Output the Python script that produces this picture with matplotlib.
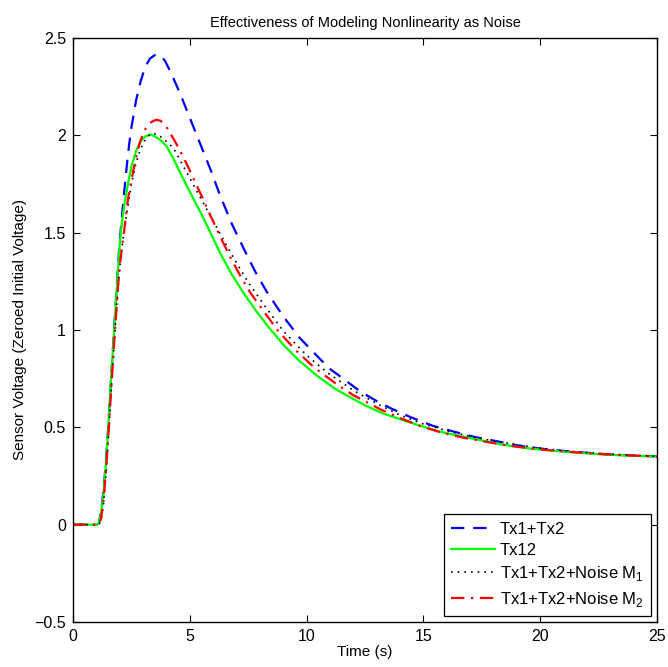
import matplotlib
matplotlib.use("Agg")
import matplotlib.pyplot as plt

plt.rcParams['font.family'] = ['Liberation Sans', 'DejaVu Sans']
plt.rcParams['font.size'] = 11

# Tx1+Tx2 (blue dashed)
t_sum = [0, 1.0, 1.1, 1.2, 1.3, 1.4, 1.5, 1.6, 1.7, 1.8, 1.9, 2.0, 2.1, 2.2, 2.3, 2.4, 2.5, 2.7,
         2.9, 3.1, 3.3, 3.5, 3.65, 3.8, 3.95, 4.2, 4.6, 5.0, 5.6, 5.9, 6.3, 6.8, 7.3, 7.8, 8.3,
         9.0, 9.7, 10.5, 11.0, 11.6, 12.3, 13.0, 13.6, 14.4, 15.4, 16.3, 17.2, 18.0, 19.0,
         19.7, 20.7, 21.7, 22.7, 23.7, 25]
v_sum = [0, 0, 0.005, 0.07, 0.17, 0.31, 0.49, 0.69, 0.89, 1.08, 1.28, 1.46, 1.59, 1.72, 1.84, 1.95,
         2.04, 2.18, 2.28, 2.355, 2.395, 2.412, 2.415, 2.405, 2.38, 2.32, 2.21, 2.09, 1.91, 1.82,
         1.69, 1.545, 1.42, 1.30, 1.195, 1.07, 0.96, 0.86, 0.80, 0.747, 0.684, 0.635, 0.598,
         0.555, 0.508, 0.478, 0.45, 0.432, 0.408, 0.395, 0.382, 0.372, 0.363, 0.356, 0.351]

# Tx12 (green solid)
t_12 = [0, 1.0, 1.1, 1.2, 1.3, 1.4, 1.5, 1.6, 1.7, 1.8, 1.9, 2.0, 2.1, 2.2, 2.35, 2.5, 2.7, 2.9,
        3.1, 3.3, 3.5, 3.75, 4.0, 4.3, 4.6, 5.0, 5.5, 5.9, 6.3, 6.8, 7.3, 7.8, 8.3, 9.0, 9.7,
        10.5, 11.2, 11.7, 12.5, 13.3, 14.3, 15.0, 15.7, 16.5, 17.2, 18.3, 19.3, 20.3, 21.4,
        22.5, 23.5, 25]
v_12 = [0, 0, 0.005, 0.06, 0.15, 0.30, 0.48, 0.69, 0.88, 1.07, 1.26, 1.44, 1.56, 1.645, 1.75, 1.84,
        1.92, 1.97, 1.995, 2.005, 1.995, 1.975, 1.945, 1.88, 1.805, 1.71, 1.595, 1.495, 1.395,
        1.285, 1.19, 1.105, 1.025, 0.925, 0.84, 0.76, 0.70, 0.665, 0.613, 0.57, 0.53, 0.503,
        0.478, 0.457, 0.44, 0.413, 0.395, 0.382, 0.371, 0.362, 0.356, 0.35]

# Tx1+Tx2+Noise M1 (black dotted)
t_m1 = [0, 1.0, 1.1, 1.2, 1.3, 1.4, 1.5, 1.6, 1.7, 1.8, 1.9, 2.0, 2.1, 2.2, 2.3, 2.5, 2.7, 2.85,
        3.0, 3.2, 3.4, 3.6, 3.85, 4.3, 5.0, 5.5, 6.0, 6.5, 7.0, 7.5, 8.2, 9.0, 10.0, 10.9,
        12.0, 13.0, 14.0, 15.0, 16.0, 17.0, 18.0, 19.0, 20.0, 21.0, 22.0, 23.0, 24.0, 25]
v_m1 = [0, 0, 0, 0.02, 0.10, 0.24, 0.42, 0.62, 0.82, 1.0, 1.17, 1.32, 1.43, 1.52, 1.60, 1.75,
        1.86, 1.915, 1.96, 1.995, 2.01, 2.005, 1.985, 1.935, 1.78, 1.67, 1.56, 1.45, 1.345, 1.245,
        1.125, 0.995, 0.87, 0.78, 0.69, 0.622, 0.563, 0.517, 0.482, 0.454, 0.43, 0.41, 0.393,
        0.38, 0.37, 0.362, 0.356, 0.351]

# Tx1+Tx2+Noise M2 (red dash-dot)
t_m2 = [0, 1.0, 1.1, 1.2, 1.3, 1.4, 1.5, 1.6, 1.7, 1.8, 1.9, 2.0, 2.1, 2.2, 2.35, 2.5, 2.65, 2.85,
        3.05, 3.3, 3.55, 3.75, 4.05, 4.5, 4.9, 5.5, 5.8, 6.3, 6.75, 7.2, 7.6, 8.2, 8.75, 9.5,
        10.3, 11.3, 12.0, 13.2, 14.0, 14.9, 15.8, 16.7, 17.7, 18.7, 19.7, 20.7, 21.7, 22.7,
        23.7, 25]
v_m2 = [0, 0, 0, 0.03, 0.12, 0.26, 0.43, 0.63, 0.82, 1.0, 1.18, 1.33, 1.43, 1.52, 1.67, 1.77,
        1.86, 1.96, 2.025, 2.065, 2.08, 2.075, 2.035, 1.94, 1.845, 1.69, 1.61, 1.48, 1.37, 1.27,
        1.19, 1.09, 1.0, 0.90, 0.81, 0.72, 0.665, 0.59, 0.548, 0.505, 0.472, 0.447, 0.425,
        0.405, 0.39, 0.379, 0.37, 0.362, 0.356, 0.351]

fig = plt.figure(figsize=(6.68, 6.67), dpi=100)
ax = fig.add_axes([0.1093, 0.0675, 0.8742, 0.8755])

ax.plot(t_sum, v_sum, color=(0, 0, 1), lw=1.6, dashes=(6, 4), label='Tx1+Tx2')
ax.plot(t_12, v_12, color=(0, 1, 0), lw=1.6, label='Tx12')
ax.plot(t_m1, v_m1, color='black', lw=1.2, dashes=(1, 3), label='Tx1+Tx2+Noise M$_\\mathregular{1}$')
ax.plot(t_m2, v_m2, color=(1, 0, 0), lw=1.6, dashes=(6, 3, 1, 3), label='Tx1+Tx2+Noise M$_\\mathregular{2}$')

ax.set_xlim(0, 25)
ax.set_ylim(-0.5, 2.5)
ax.set_xticks([0, 5, 10, 15, 20, 25])
ax.set_yticks([-0.5, 0, 0.5, 1, 1.5, 2, 2.5])
ax.set_yticklabels(['\u22120.5', '0', '0.5', '1', '1.5', '2', '2.5'])
ax.tick_params(direction='in', top=True, right=True, length=5, width=0.8, labelsize=11.5, pad=5)
for s in ax.spines.values():
    s.set_linewidth(1.0)

ax.set_title('Effectiveness of Modeling Nonlinearity as Noise', fontsize=10.5, pad=8)
ax.set_xlabel('Time (s)', fontsize=11, labelpad=1)
ax.set_ylabel('Sensor Voltage (Zeroed Initial Voltage)', fontsize=11, labelpad=5)

leg = ax.legend(loc='lower right', fontsize=12, fancybox=False, framealpha=1,
                edgecolor='black', handlelength=2.6, borderaxespad=0.35,
                labelspacing=0.38, handletextpad=0.3, borderpad=0.45)
leg.get_frame().set_linewidth(0.9)

fig.savefig('out.png', dpi=100)
